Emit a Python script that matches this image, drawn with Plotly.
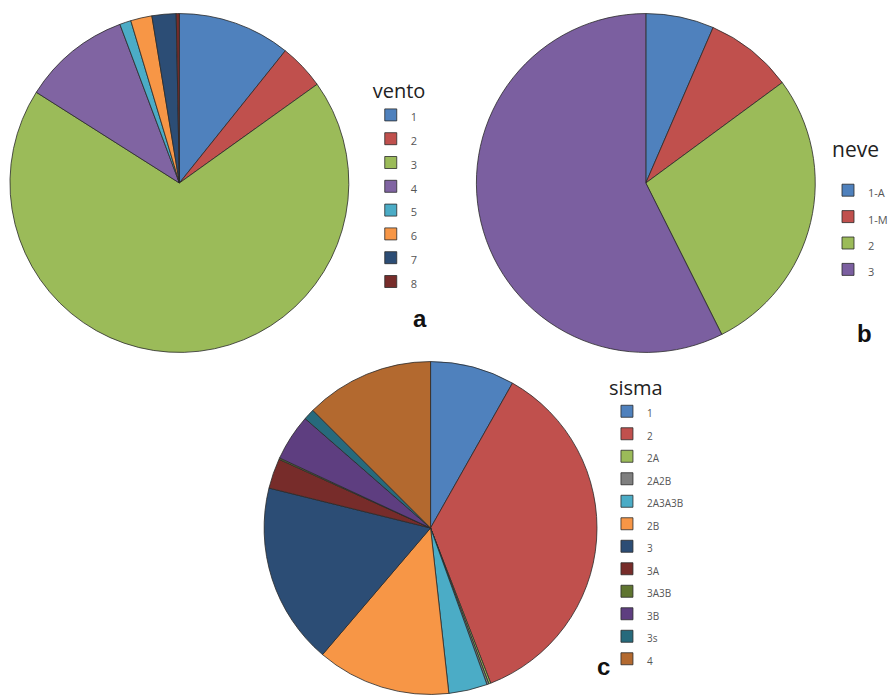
import plotly.graph_objects as go

# ---- data ----
vento_labels = ["1", "2", "3", "4", "5", "6", "7", "8"]
vento_values = [10.75, 4.36, 68.9, 10.3, 1.08, 2.03, 2.3, 0.3]

neve_labels = ["1-A", "1-M", "2", "3"]
neve_values = [6.5, 8.4, 27.7, 57.4]

sisma_labels = ["1", "2", "2A", "2A2B", "2A3A3B", "2B", "3", "3A", "3A3B", "3B", "3s", "4"]
sisma_values = [8.19, 35.92, 0.19, 0.19, 3.75, 13.0, 17.61, 2.92, 0.14, 4.5, 1.08, 12.5]

# ---- styles ----
pal = ["#4F81BD", "#C0504D", "#9BBB59", "#8064A2", "#4BACC6", "#F79646",
       "#2C4D75", "#772C2A", "#5F7530", "#4D3B62", "#276A7C", "#B3692F"]
neve_pal = ["#4F81BD", "#C0504D", "#9BBB59", "#7B5FA0"]
sisma_pal = ["#4F81BD", "#C0504D", "#9BBB59", "#7F7F7F", "#4BACC6", "#F79646",
             "#2C4D75", "#772C2A", "#5F7530", "#5E3E80", "#276A7C", "#B3692F"]

W, H = 893, 695
FONT = "Open Sans"


def small(lbls, size):
    return [f'<span style="font-size:{size}px">{l}</span>' for l in lbls]


def dom(cx, cy, r):
    x0, x1 = (cx - r) / W, (cx + r) / W
    y0, y1 = 1 - (cy + r) / H, 1 - (cy - r) / H
    return dict(x=[max(0, x0), min(1, x1)], y=[max(0, y0), min(1, y1)])


line = dict(color="#2a2a2a", width=0.8)

fig = go.Figure()
fig.add_trace(go.Pie(
    labels=small(vento_labels, 11), values=vento_values, sort=False,
    direction="clockwise", rotation=0, textinfo="none",
    marker=dict(colors=pal[:8], line=line),
    domain=dom(180, 183, 170), legend="legend", legendgroup="vento",
))
fig.add_trace(go.Pie(
    labels=small(neve_labels, 11), values=neve_values, sort=False,
    direction="clockwise", rotation=0, textinfo="none",
    marker=dict(colors=neve_pal, line=line),
    domain=dom(648, 183, 170), legend="legend2", legendgroup="neve",
))
fig.add_trace(go.Pie(
    labels=small(sisma_labels, 10), values=sisma_values, sort=False,
    direction="clockwise", rotation=0, textinfo="none",
    marker=dict(colors=sisma_pal, line=line),
    domain=dict(x=[(432 - 167) / W, (432 + 167) / W], y=[0, 334 / H]),
    legend="legend3", legendgroup="sisma",
))

def leg(x, y, title, fs, tfs):
    d = dict(
        x=x / W, y=1 - y / H, xanchor="left", yanchor="top",
        bgcolor="rgba(0,0,0,0)", borderwidth=0, maxheight=500,
        font=dict(family=FONT, size=fs, color="#555555"),
        itemclick=False, itemdoubleclick=False,
    )
    if title:
        d["title"] = dict(text=title, font=dict(family=FONT, size=tfs, color="#222"))
    return d

lab_font = dict(family="Liberation Sans", size=24, color="#111")

fig.update_layout(
    width=W, height=H,
    margin=dict(l=0, r=0, t=0, b=0),
    paper_bgcolor="white", plot_bgcolor="white",
    showlegend=True,
    legend=leg(372, 72, "vento", 16, 20),
    legend2=leg(831, 172, None, 18, 21),
    legend3=leg(609, 369, "sisma", 15, 20),
    annotations=[
        dict(text="neve", x=833 / W, y=1 - 149 / H, xref="paper", yref="paper",
             xanchor="left", yanchor="middle", showarrow=False,
             font=dict(family=FONT, size=21, color="#222")),
        dict(text="<b>a</b>", x=421 / W, y=1 - 318 / H, xref="paper", yref="paper",
             showarrow=False, font=lab_font),
        dict(text="<b>b</b>", x=877 / W, y=1 - 333 / H, xref="paper", yref="paper",
             showarrow=False, font=lab_font),
        dict(text="<b>c</b>", x=614 / W, y=1 - 682 / H, xref="paper", yref="paper",
             showarrow=False, font=lab_font),
    ],
)

fig.write_html("out.html")
